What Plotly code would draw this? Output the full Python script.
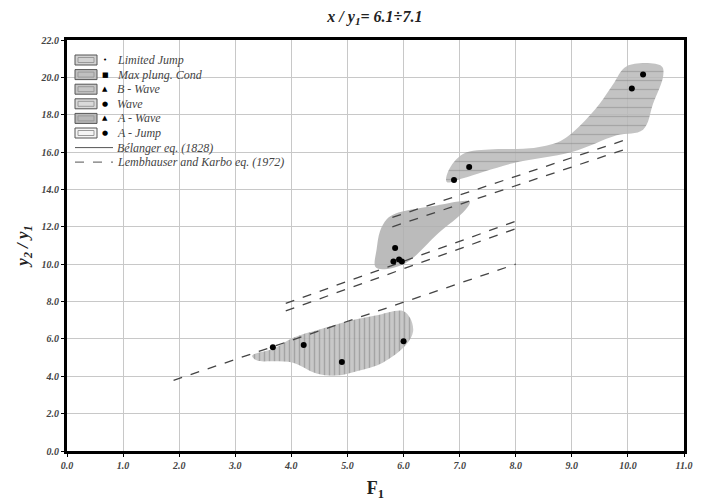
import plotly.graph_objects as go

# ---- data ----
limited_x = [3.67, 4.22, 4.90, 6.00]
limited_y = [5.56, 5.67, 4.76, 5.88]
wave_x = [5.82, 5.85, 5.92, 5.97]
wave_y = [10.15, 10.86, 10.25, 10.15]
ajump_x = [6.90, 7.17]
ajump_y = [14.50, 15.20]
maxpl_x = [10.07, 10.27]
maxpl_y = [19.40, 20.15]

# shaded zones
zone_low_x = [3.30, 3.70, 4.03, 4.50, 5.04, 5.50, 5.99, 6.12, 6.17, 6.05, 5.63, 5.20, 4.81, 4.45, 4.03, 3.70, 3.39, 3.30]
zone_low_y = [5.10, 5.50, 6.06, 6.50, 6.97, 7.25, 7.50, 7.10, 6.40, 5.70, 4.73, 4.30, 4.04, 4.15, 4.73, 4.80, 4.84, 5.10]
zone_mid_x = [5.49, 5.52, 5.58, 5.70, 5.85, 6.50, 7.18, 7.10, 6.60, 6.11, 5.81, 5.55, 5.49]
zone_mid_y = [9.90, 10.80, 11.76, 12.40, 12.70, 13.10, 13.35, 12.90, 11.60, 10.20, 9.80, 9.75, 9.90]
zone_up_x = [6.77, 6.80, 7.06, 7.60, 8.25, 8.80, 9.14, 9.50, 9.73, 9.98, 10.60, 10.63, 10.45, 10.27, 9.80, 9.00, 7.95, 7.06, 6.77]
zone_up_y = [14.40, 15.00, 15.90, 16.15, 16.20, 16.60, 17.40, 18.60, 19.60, 20.60, 20.60, 20.10, 18.60, 17.20, 16.90, 16.00, 15.40, 14.60, 14.40]

# equations
bel_x = [[1.90, 8.00], [3.90, 8.00], [5.80, 10.00]]
bel_y = [[3.78, 10.00], [7.50, 11.90], [12.00, 16.20]]
lem_x = [[3.90, 8.00], [5.80, 10.00]]
lem_y = [[7.90, 12.30], [12.50, 16.70]]

x_ticks = [0, 1, 2, 3, 4, 5, 6, 7, 8, 9, 10, 11]
y_ticks = [0, 2, 4, 6, 8, 10, 12, 14, 16, 18, 20, 22]

legend_names = ["Limited Jump", "Max plung. Cond", "B - Wave", "Wave", "A - Wave", "A - Jump",
                "Bélanger eq. (1828)", "Lembhauser and Karbo eq. (1972)"]
legend_marks = ["•", "■", "▲", "●", "▲", "●"]

SERIF = "Liberation Serif"

fig = go.Figure()

# zones
fig.add_trace(go.Scatter(x=zone_low_x, y=zone_low_y, mode="none", fill="toself",
                         fillcolor="rgba(175,175,175,0.85)",
                         fillpattern=dict(shape="|", fgcolor="rgba(120,120,120,0.9)", bgcolor="rgba(190,190,190,0.85)", size=5, solidity=0.3),
                         line=dict(shape="spline", width=0), showlegend=False, hoverinfo="skip"))
fig.add_trace(go.Scatter(x=zone_mid_x, y=zone_mid_y, mode="none", fill="toself",
                         fillcolor="rgba(175,175,175,0.85)", line=dict(shape="spline", width=0),
                         showlegend=False, hoverinfo="skip"))
fig.add_trace(go.Scatter(x=zone_up_x, y=zone_up_y, mode="none", fill="toself",
                         fillcolor="rgba(175,175,175,0.85)",
                         fillpattern=dict(shape="-", fgcolor="rgba(130,130,130,0.9)", bgcolor="rgba(185,185,185,0.85)", size=9, solidity=0.15),
                         line=dict(shape="spline", width=0), showlegend=False, hoverinfo="skip"))

# equation lines
for xs, ys in zip(bel_x, bel_y):
    fig.add_trace(go.Scatter(x=xs, y=ys, mode="lines", showlegend=False,
                             line=dict(color="#444", width=1.3, dash="dash")))
for xs, ys in zip(lem_x, lem_y):
    fig.add_trace(go.Scatter(x=xs, y=ys, mode="lines", showlegend=False,
                             line=dict(color="#444", width=1.3, dash="dash")))

# points
for xs, ys in [(limited_x, limited_y), (wave_x, wave_y), (ajump_x, ajump_y), (maxpl_x, maxpl_y)]:
    fig.add_trace(go.Scatter(x=xs, y=ys, mode="markers", showlegend=False,
                             marker=dict(symbol="circle", size=6, color="black")))

# ---- manual legend (paper coords computed from pixel layout) ----
L, R, T, B = 67, 684, 40, 451
def px(v):
    return (v - L) / (R - L)
def py(v):
    return (B - v) / (B - T)

shapes = []
annotations = []
row_y0 = 60
row_dy = 14.6
box_fills = ["#d2d2d2", "#c0c0c0", "#c6c6c6", "#dadada", "#b8b8b8", "#f4f4f4"]
for i, name in enumerate(legend_names):
    yc = row_y0 + i * row_dy
    if i < 6:
        shapes.append(dict(type="rect", xref="paper", yref="paper",
                           x0=px(75), x1=px(97), y0=py(yc + 5), y1=py(yc - 5),
                           fillcolor=box_fills[i], line=dict(color="#555", width=1)))
        shapes.append(dict(type="rect", xref="paper", yref="paper",
                           x0=px(78), x1=px(94), y0=py(yc + 2.5), y1=py(yc - 2.5),
                           fillcolor="rgba(0,0,0,0)", line=dict(color="#999", width=1)))
        annotations.append(dict(xref="paper", yref="paper", x=px(105), y=py(yc), text=legend_marks[i],
                                showarrow=False, xanchor="center", yanchor="middle",
                                font=dict(family="DejaVu Sans", size=7, color="black")))
    elif i == 6:
        shapes.append(dict(type="line", xref="paper", yref="paper", x0=px(75), x1=px(113),
                           y0=py(yc), y1=py(yc), line=dict(color="#555", width=1)))
    else:
        shapes.append(dict(type="line", xref="paper", yref="paper", x0=px(75), x1=px(113),
                           y0=py(yc), y1=py(yc), line=dict(color="#777", width=1.3, dash="dash")))
    annotations.append(dict(xref="paper", yref="paper", x=px(115), y=py(yc), text=name,
                            showarrow=False, xanchor="left", yanchor="middle",
                            font=dict(family=SERIF, size=12, color="#444", style="italic")))

axis_common = dict(showgrid=True, gridcolor="#c8c8c8", gridwidth=1, zeroline=False,
                   showline=True, linecolor="black", linewidth=3, mirror=True,
                   ticks="outside", ticklen=3, tickcolor="black", automargin=False,
                   tickfont=dict(family=SERIF, size=10, color="#444", style="italic", weight="bold"))

fig.update_layout(
    width=710, height=502,
    margin=dict(l=67, r=26, t=40, b=51),
    paper_bgcolor="white", plot_bgcolor="white",
    title=dict(text="x / y<sub>1</sub>= 6.1÷7.1", x=0.528, xanchor="center", y=0.968, yanchor="middle",
               font=dict(family=SERIF, size=16, color="#222", style="italic", weight="bold")),
    xaxis=dict(range=[0, 11], tickvals=x_ticks, ticktext=[f"{v:.1f}" for v in x_ticks],
               title=dict(text="F<sub>1</sub>", standoff=12,
                          font=dict(family=SERIF, size=18, color="#222", weight="bold")),
               **axis_common),
    yaxis=dict(range=[0, 22], tickvals=y_ticks, ticktext=[f"{v:.1f}" for v in y_ticks],
               title=dict(text="y<sub>2</sub> / y<sub>1</sub>", standoff=8,
                          font=dict(family=SERIF, size=17, color="#222", style="italic", weight="bold")),
               **axis_common),
    shapes=shapes,
    annotations=annotations,
    showlegend=False,
)

fig.write_html("out.html")
